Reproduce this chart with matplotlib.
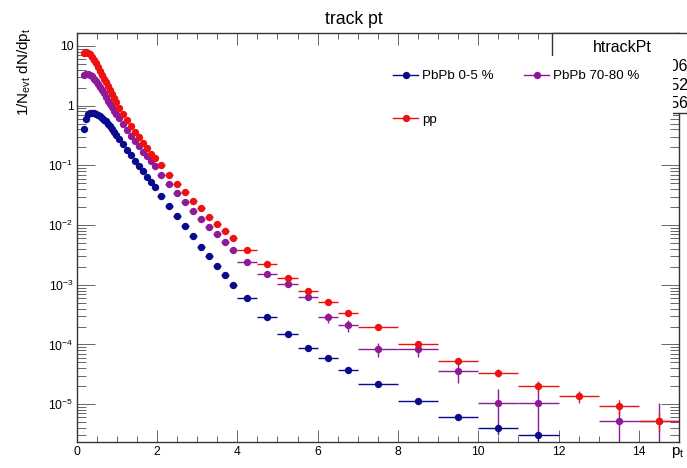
import numpy as np
import matplotlib.pyplot as plt
from matplotlib.lines import Line2D
from matplotlib.patches import Rectangle
from matplotlib.ticker import FixedLocator, FuncFormatter, MultipleLocator, NullFormatter

plt.rcParams['font.family'] = ['Liberation Sans', 'DejaVu Sans']
plt.rcParams['mathtext.fontset'] = 'custom'
plt.rcParams['mathtext.rm'] = 'Liberation Sans'
plt.rcParams['mathtext.it'] = 'Liberation Sans:italic'
plt.rcParams['mathtext.bf'] = 'Liberation Sans:bold'

nan = np.nan

# bin centres (GeV/c) and half widths
pt = [0.175, 0.225, 0.275, 0.325, 0.375, 0.425, 0.475, 0.525, 0.575, 0.625,
      0.675, 0.725, 0.775, 0.825, 0.875, 0.925, 0.975,
      1.05, 1.15, 1.25, 1.35, 1.45, 1.55, 1.65, 1.75, 1.85, 1.95,
      2.1, 2.3, 2.5, 2.7, 2.9, 3.1, 3.3, 3.5, 3.7, 3.9,
      4.25, 4.75, 5.25, 5.75, 6.25, 6.75,
      7.5, 8.5, 9.5, 10.5, 11.5, 12.5, 13.5, 14.5]
pt_halfwidth = [0.025] * 17 + [0.05] * 10 + [0.1] * 10 + [0.25] * 6 + [0.5] * 8

pbpb_0_5 = [0.41, 0.60, 0.73, 0.76, 0.755, 0.74, 0.715, 0.69, 0.66, 0.625,
            0.585, 0.545, 0.50, 0.455, 0.405, 0.36, 0.32,
            0.275, 0.224, 0.182, 0.148, 0.120, 0.0977, 0.0794, 0.0646, 0.0525, 0.0427,
            0.0309, 0.0209, 0.0141, 0.00955, 0.00646, 0.00437, 0.00302, 0.00209, 0.00145, 0.00100,
            6.03e-4, 2.88e-4, 1.51e-4, 8.71e-5, 6.03e-5, 3.80e-5,
            2.14e-5, 1.12e-5, 6.17e-6, 3.98e-6, 3.02e-6, nan, nan, nan]

pbpb_70_80 = [3.24, 3.43, 3.43, 3.31, 3.09, 2.85, 2.60, 2.34, 2.09, 1.84,
              1.60, 1.40, 1.22, 1.06, 0.933, 0.822, 0.724,
              0.631, 0.501, 0.398, 0.316, 0.257, 0.209, 0.170, 0.141, 0.117, 0.0977,
              0.0700, 0.0490, 0.0339, 0.0240, 0.0174, 0.0126, 0.00933, 0.00700, 0.00525, 0.00389,
              0.00245, 0.00151, 0.00102, 6.31e-4, 2.85e-4, 2.09e-4,
              8.32e-5, 8.32e-5, 3.63e-5, 1.05e-5, 1.05e-5, nan, 5.25e-6, 5.25e-6]

pp = [7.59, 7.94, 7.76, 7.24, 6.61, 5.89, 5.13, 4.47, 3.85, 3.31,
      2.85, 2.45, 2.11, 1.82, 1.57, 1.35, 1.16,
      0.912, 0.724, 0.575, 0.457, 0.363, 0.295, 0.240, 0.195, 0.158, 0.132,
      0.100, 0.0692, 0.0490, 0.0355, 0.0257, 0.0191, 0.0138, 0.0105, 0.00794, 0.00617,
      0.00380, 0.00219, 0.00129, 7.94e-4, 5.13e-4, 3.39e-4,
      1.95e-4, 1.00e-4, 5.37e-5, 3.39e-5, 2.04e-5, 1.35e-5, 9.33e-6, 5.25e-6]

# relative stat. errors of the wide bins (pt > 4), lower bins have invisible errors
relerr_0_5 = [0.02, 0.03, 0.04, 0.05, 0.06, 0.07, 0.07, 0.10, 0.13, 0.17, 0.20, nan, nan, nan]
relerr_70_80 = [0.065, 0.083, 0.099, 0.13, 0.19, 0.22, 0.25, 0.25, 0.38, 0.71, 0.71, nan, 1.0, 1.0]
relerr_pp = [0.02, 0.025, 0.03, 0.04, 0.05, 0.06, 0.06, 0.09, 0.12, 0.15, 0.19, 0.23, 0.28, 0.35]

labels = ['PbPb 0-5 %', 'PbPb 70-80 %', 'pp']
colors = ['#0a0a8c', '#8e1a9a', '#ee1111']
stat_values = ['1006', '0.852', '0.656']
y_decades = [1e-5, 1e-4, 1e-3, 1e-2, 1e-1, 1, 10]

W, H = 687, 468


def fx(px):
    return px / W


def fy(py):
    return 1 - py / H


fig = plt.figure(figsize=(6.87, 4.68), dpi=100)
ax = fig.add_axes([fx(76.7), fy(442.3), (679 - 76.7) / W, (442.3 - 33) / H])

series = [(pbpb_0_5, relerr_0_5), (pbpb_70_80, relerr_70_80), (pp, relerr_pp)]
for (vals, rel), col in zip(series, colors):
    v = np.array(vals)
    e = np.concatenate([np.zeros(len(v) - len(rel)), np.nan_to_num(rel)]) * np.nan_to_num(v)
    ax.errorbar(pt, v, xerr=pt_halfwidth, yerr=e, fmt='o', color=col, ms=5.3, mew=0,
                elinewidth=1.0, capsize=1.6, capthick=1.0)

ax.set_yscale('log')
ax.set_xlim(0, 15)
ax.set_ylim(2.3e-6, 16.5)

ax.xaxis.set_major_locator(MultipleLocator(2))
ax.xaxis.set_minor_locator(MultipleLocator(0.5))
ax.yaxis.set_major_locator(FixedLocator(y_decades))
minors = [m * d for d in [1e-6] + y_decades for m in range(2, 10)]
ax.yaxis.set_minor_locator(FixedLocator([m for m in minors if 2.3e-6 < m < 16.5]))
ax.yaxis.set_minor_formatter(NullFormatter())


def ylab(y, pos):
    e = int(round(np.log10(y)))
    if e == 1:
        return '10'
    if e == 0:
        return '1'
    return r'$10^{%d}$' % e


ax.yaxis.set_major_formatter(FuncFormatter(ylab))

ax.tick_params(which='both', direction='in', top=True, right=True, labelsize=8.7,
               color='#666666', width=0.7)
ax.tick_params(axis='x', which='major', length=8.6, pad=3)
ax.tick_params(axis='x', which='minor', length=4.3)
ax.tick_params(axis='y', which='major', length=13, pad=2.4)
ax.tick_params(axis='y', which='minor', length=6.5)
for s in ax.spines.values():
    s.set_color('#333333')
    s.set_linewidth(1.0)

fig.text(fx(354), fy(20), 'track pt', ha='center', va='center', fontsize=12.7)
fig.text(fx(24), fy(28), r'1/N$_{\mathrm{evt}}$ dN/dp$_{\mathrm{t}}$', rotation=90,
         ha='center', va='top', fontsize=11)
fig.text(fx(684), fy(452), r'p$_{\mathrm{t}}$', ha='right', va='center', fontsize=11)

# stats box, mostly hidden behind the legend
fig.add_artist(Rectangle((fx(552), fy(113)), fx(780) - fx(552), fy(33.5) - fy(113),
                         transform=fig.transFigure, fc='white', ec='#333333', lw=1, zorder=2))
fig.text(fx(622), fy(47), 'htrackPt', ha='center', va='center', fontsize=11.5, zorder=2.5)
for yy, val in zip([67, 85, 103], stat_values):
    fig.text(fx(688), fy(yy), val, ha='right', va='center', fontsize=11.5, zorder=2.5)
fig.add_artist(Rectangle((fx(545), fy(116)), fx(673) - fx(545), fy(55.5) - fy(116),
                         transform=fig.transFigure, fc='white', ec='none', zorder=3))

handles = [Line2D([], [], color=c, marker='o', ms=5.3, mew=0, lw=1) for c in colors]
order = [0, 2, 1]
leg = fig.legend([handles[i] for i in order], [labels[i] for i in order], ncol=2,
                 loc='upper left', bbox_to_anchor=(fx(393), fy(70)), bbox_transform=fig.transFigure,
                 frameon=False, fontsize=9.6, handlelength=1.9, handletextpad=0.25,
                 columnspacing=2.3, labelspacing=2.35, borderpad=0, borderaxespad=0)
leg.set_zorder(5)

fig.savefig('out.png', dpi=100)
